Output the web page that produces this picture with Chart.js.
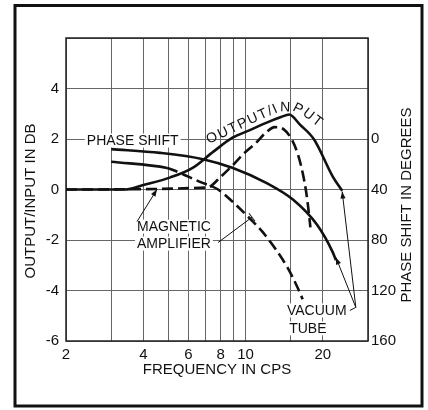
<!DOCTYPE html>
<html>
<head>
<meta charset="utf-8">
<script src="https://cdn.jsdelivr.net/npm/chart.js@4.4.1/dist/chart.umd.min.js"></script>
<style>
  html, body { margin: 0; padding: 0; background: #fff; }
  canvas { display: block; }
</style>
</head>
<body>
<canvas id="respuesta" width="428" height="410"></canvas>
<script>
// values (frequency in cps, gain in db, phase in degrees)
const tubeGainFreq = [2, 3.4, 4.0, 5.1, 6.25, 7.5, 8.9, 10.4, 12.1, 13.75, 14.8, 16.3, 18.5, 21.9, 23.8];
const tubeGainDb   = [0, 0, 0.18, 0.48, 0.87, 1.5, 2.05, 2.35, 2.65, 2.87, 2.97, 2.57, 1.98, 0.5, -0.05];

const magGainFreq = [2, 7.1, 8.0, 9.0, 9.8, 11.0, 12.0, 13.0, 14.1, 15.2, 16.1, 16.9, 17.4, 17.9];
const magGainDb   = [0, 0.08, 0.5, 1.0, 1.4, 1.85, 2.25, 2.47, 2.38, 1.95, 1.3, 0.4, -0.4, -1.5];

const tubePhaseFreq = [3.0, 4.65, 6.83, 8.94, 12.1, 15.3, 19.0, 21.9, 22.5];
const tubePhaseDeg  = [8, 11, 16, 23, 35, 48, 68, 90, 96];

const magPhaseFreq = [3.0, 4.95, 5.22, 6.65, 7.82, 8.94, 10.4, 11.7, 14.5, 15.9, 16.7];
const magPhaseDeg  = [18, 23, 24.5, 34, 40, 50, 63, 74, 101, 117, 127];

const freqTicks  = [2, 3, 4, 5, 6, 7, 8, 9, 10, 15, 20, 30];
const freqLabels = [2, 4, 6, 8, 10, 20];
const dbTicks    = [-6, -4, -2, 0, 2, 4, 6];
const phaseTicks = [0, 40, 80, 120, 160];

// labels and leader lines, placed in chart units
const notes = [
  { text: 'PHASE SHIFT', f: 2.41, db: 1.94 },
  { text: 'MAGNETIC', f: 3.78, db: -1.47 },
  { text: 'AMPLIFIER', f: 3.78, db: -2.14 },
  { text: 'VACUUM', f: 14.5, db: -4.79 },
  { text: 'TUBE', f: 14.8, db: -5.5 }
];
const leaders = [
  { from: [3.78, -1.27], to: [4.52, 0], end: 'arrow' },
  { from: [7.82, -2.1], to: [10.6, -1.1], end: 'bar' },
  { from: [25.5, -4.79], to: [26.9, -4.67], end: '' },
  { from: [26.9, -4.67], to: [23.8, -0.08], end: 'arrow' },
  { from: [26.9, -4.67], to: [22.5, -2.69], end: 'arrow' }
];
const curveLabel = 'OUTPUT/INPUT';
const curveLabelPath = [[7.2, 1.8], [8.7, 2.2], [10.4, 2.57], [11.9, 2.84], [13.6, 3.1], [15.6, 3.08], [17.05, 2.88], [19.2, 2.48]];

const INK = '#111';
const FONT = '"Liberation Sans", Arial, sans-serif';

const toXY = (xs, ys) => xs.map((x, i) => ({ x: x, y: ys[i] }));
const pos = (chart, f, db) => [chart.scales.x.getPixelForValue(f), chart.scales.y.getPixelForValue(db)];

function arrowHead(ctx, x0, y0, x1, y1, kind) {
  const a = Math.atan2(y1 - y0, x1 - x0);
  ctx.save();
  ctx.translate(x1, y1);
  ctx.rotate(a);
  if (kind === 'arrow') {
    ctx.beginPath();
    ctx.moveTo(0, 0);
    ctx.lineTo(-7, -2.6);
    ctx.lineTo(-7, 2.6);
    ctx.closePath();
    ctx.fill();
  } else if (kind === 'bar') {
    ctx.beginPath();
    ctx.moveTo(0, -5);
    ctx.lineTo(0, 5);
    ctx.stroke();
  }
  ctx.restore();
}

function textAlong(ctx, text, pts) {
  const lens = [0];
  for (let i = 1; i < pts.length; i++) {
    lens.push(lens[i - 1] + Math.hypot(pts[i][0] - pts[i - 1][0], pts[i][1] - pts[i - 1][1]));
  }
  const total = lens[lens.length - 1];
  const chars = [...text];
  const widths = chars.map(c => ctx.measureText(c).width);
  const sum = widths.reduce((a, b) => a + b, 0);
  const gap = (total - sum) / (chars.length - 1);
  let d = 0;
  chars.forEach((c, k) => {
    const mid = d + widths[k] / 2;
    let i = 1;
    while (i < pts.length - 1 && lens[i] < mid) i++;
    const t = (mid - lens[i - 1]) / (lens[i] - lens[i - 1]);
    const x = pts[i - 1][0] + t * (pts[i][0] - pts[i - 1][0]);
    const y = pts[i - 1][1] + t * (pts[i][1] - pts[i - 1][1]);
    const ang = Math.atan2(pts[i][1] - pts[i - 1][1], pts[i][0] - pts[i - 1][0]);
    ctx.save();
    ctx.translate(x, y);
    ctx.rotate(ang);
    ctx.fillText(c, 0, 0);
    ctx.restore();
    d += widths[k] + gap;
  });
}

const notas = {
  id: 'notas',
  beforeDatasetsDraw(chart) {
    const { ctx, chartArea: a } = chart;
    ctx.save();
    ctx.strokeStyle = '#222';
    ctx.lineWidth = 1.5;
    ctx.strokeRect(a.left, a.top, a.right - a.left, a.bottom - a.top);
    ctx.font = '14px ' + FONT;
    ctx.fillStyle = '#fff';
    notes.forEach(n => {
      const [x, y] = pos(chart, n.f, n.db);
      ctx.fillRect(x - 2, y - 7, ctx.measureText(n.text).width + 4, 14);
    });
    ctx.restore();
  },
  afterDatasetsDraw(chart) {
    const { ctx } = chart;
    ctx.save();
    ctx.fillStyle = INK;
    ctx.strokeStyle = INK;
    ctx.font = '14px ' + FONT;
    ctx.textAlign = 'left';
    ctx.textBaseline = 'middle';
    notes.forEach(n => {
      const [x, y] = pos(chart, n.f, n.db);
      ctx.fillText(n.text, x, y + 1);
    });
    ctx.lineWidth = 1;
    leaders.forEach(l => {
      const [x0, y0] = pos(chart, l.from[0], l.from[1]);
      const [x1, y1] = pos(chart, l.to[0], l.to[1]);
      ctx.beginPath();
      ctx.moveTo(x0, y0);
      ctx.lineTo(x1, y1);
      ctx.stroke();
      arrowHead(ctx, x0, y0, x1, y1, l.end);
    });
    ctx.textAlign = 'center';
    ctx.textBaseline = 'alphabetic';
    textAlong(ctx, curveLabel, curveLabelPath.map(p => pos(chart, p[0], p[1])));
    ctx.restore();
  },
  afterDraw(chart) {
    const { ctx } = chart;
    ctx.save();
    ctx.fillStyle = INK;
    ctx.font = '15px ' + FONT;
    ctx.textAlign = 'center';
    ctx.textBaseline = 'middle';
    ctx.translate(31, 201);
    ctx.rotate(-Math.PI / 2);
    ctx.fillText('OUTPUT/INPUT IN DB', 0, 0);
    ctx.restore();
    ctx.save();
    ctx.fillStyle = INK;
    ctx.font = '15px ' + FONT;
    ctx.textAlign = 'center';
    ctx.textBaseline = 'middle';
    ctx.translate(407, 205);
    ctx.rotate(-Math.PI / 2);
    ctx.fillText('PHASE SHIFT IN DEGREES', 0, 0);
    ctx.restore();
    // outer frame of the figure
    ctx.save();
    ctx.strokeStyle = INK;
    ctx.lineWidth = 3;
    ctx.strokeRect(15, 5.5, 407, 400.5);
    ctx.restore();
  }
};

const lineStyle = {
  borderColor: INK,
  borderWidth: 2.6,
  pointRadius: 0,
  fill: false,
  cubicInterpolationMode: 'monotone'
};

Chart.defaults.font.family = FONT;
Chart.defaults.color = INK;

new Chart(document.getElementById('respuesta'), {
  type: 'line',
  data: {
    datasets: [
      { ...lineStyle, label: 'Vacuum tube output/input', data: toXY(tubeGainFreq, tubeGainDb), yAxisID: 'y' },
      { ...lineStyle, label: 'Magnetic amplifier output/input', data: toXY(magGainFreq, magGainDb), yAxisID: 'y', borderDash: [11, 5] },
      { ...lineStyle, label: 'Vacuum tube phase shift', data: toXY(tubePhaseFreq, tubePhaseDeg), yAxisID: 'y2' },
      {
        ...lineStyle, label: 'Magnetic amplifier phase shift', data: toXY(magPhaseFreq, magPhaseDeg), yAxisID: 'y2',
        segment: { borderDash: c => (c.p0DataIndex === 0 ? [] : [11, 5]) }
      }
    ]
  },
  options: {
    responsive: false,
    animation: false,
    layout: { padding: { top: 38, left: 0, right: 0, bottom: 0 } },
    plugins: { legend: { display: false }, tooltip: { enabled: false } },
    scales: {
      x: {
        type: 'logarithmic',
        min: 2,
        max: 30,
        afterBuildTicks: s => { s.ticks = freqTicks.map(v => ({ value: v })); },
        afterFit: s => { s.height = 69; },
        grid: { color: '#666', lineWidth: 1, drawTicks: false },
        border: { display: false },
        ticks: {
          autoSkip: false,
          maxRotation: 0,
          padding: 5,
          font: { size: 15 },
          callback: v => (freqLabels.includes(v) ? String(v) : '')
        },
        title: { display: true, text: 'FREQUENCY IN CPS', font: { size: 15 }, padding: { top: 0, bottom: 31 } }
      },
      y: {
        position: 'left',
        min: -6,
        max: 6,
        afterBuildTicks: s => { s.ticks = dbTicks.map(v => ({ value: v })); },
        afterFit: s => { s.width = 66; },
        grid: { color: '#666', lineWidth: 1, drawTicks: false },
        border: { display: false },
        ticks: { padding: 7, font: { size: 15 }, callback: v => (v === 6 ? '' : String(v)) }
      },
      y2: {
        position: 'right',
        min: -80,
        max: 160,
        reverse: true,
        afterBuildTicks: s => { s.ticks = phaseTicks.map(v => ({ value: v })); },
        afterFit: s => { s.width = 60; },
        grid: { display: false, drawTicks: false },
        border: { display: false },
        ticks: { padding: 3, font: { size: 15 } }
      }
    }
  },
  plugins: [notas]
});
</script>
</body>
</html>
